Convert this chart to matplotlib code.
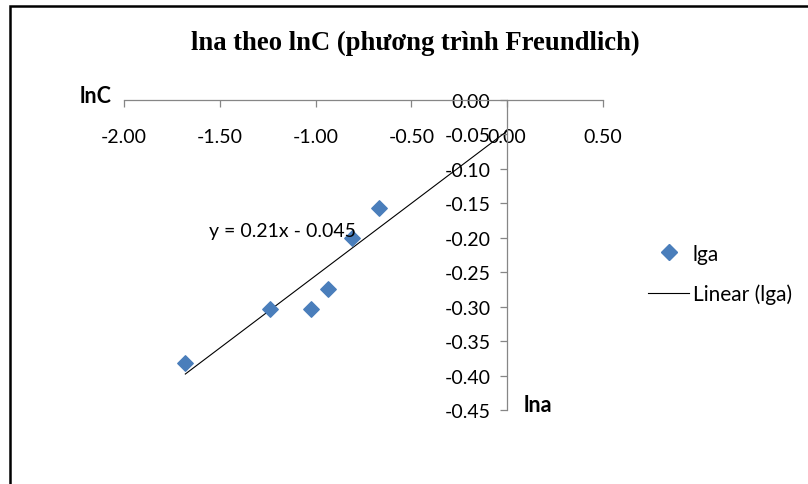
import numpy as np
import matplotlib
matplotlib.use("Agg")
import matplotlib.pyplot as plt
from matplotlib.patches import Rectangle
from matplotlib.lines import Line2D

# dữ liệu
lnC = [-1.68, -1.238, -1.023, -0.935, -0.81, -0.668]
lna = [-0.382, -0.303, -0.303, -0.274, -0.200, -0.157]
slope, intercept = 0.21, -0.045
xticks = [-2.00, -1.50, -1.00, -0.50, 0.00, 0.50]
yticks = [0.00, -0.05, -0.10, -0.15, -0.20, -0.25, -0.30, -0.35, -0.40, -0.45]

FONT = ["Lato", "DejaVu Sans"]
BLUE = "#4A7EBB"
FS = 14

fig = plt.figure(figsize=(8.08, 4.85), dpi=100)
ax = fig.add_axes([124/808, 1 - 411/485, (603 - 124)/808, (411 - 101)/485])

# khung ngoài của biểu đồ
fig.patches.append(Rectangle((10/808, -0.1), 1.2, 1.1 - 7/485, transform=fig.transFigure,
                             fill=False, ec="black", lw=1.8, clip_on=False))

ax.scatter(lnC, lna, marker="D", s=62, color=BLUE, zorder=3, label="lga")
xt = np.array([min(lnC), 0.0])
ax.plot(xt, slope*xt + intercept, color="black", lw=0.8, label="Linear (lga)")

ax.set_xlim(-2.0, 0.5)
ax.set_ylim(-0.45, 0.0)
for s in ["right", "top"]:
    ax.spines[s].set_visible(False)
ax.spines["left"].set_position(("data", 0))
ax.spines["bottom"].set_position(("data", 0))
for s in ["left", "bottom"]:
    ax.spines[s].set_color("#868686")
    ax.spines[s].set_linewidth(0.9)
ax.set_xticks(xticks)
ax.set_yticks(yticks)
ax.set_xticklabels([f"{v:.2f}" for v in xticks], family=FONT, fontsize=FS)
ax.set_yticklabels([f"{v:.2f}" for v in yticks], family=FONT, fontsize=FS)
ax.tick_params(axis="both", colors="#868686", labelcolor="black", length=5, width=0.9)
ax.tick_params(axis="x", pad=15)
ax.tick_params(axis="y", pad=7)

ax.text(-1.556, -0.19, f"y = {slope}x - {abs(intercept)}", family=FONT, fontsize=FS,
        ha="left", va="center")

fig.text(96/808, 1 - 97/485, "lnC", family=FONT, fontsize=15.5, fontweight="bold",
         ha="center", va="center")
fig.text(538/808, 1 - 406/485, "lna", family=FONT, fontsize=15.5, fontweight="bold",
         ha="center", va="center")
fig.text(415/808, 1 - 43/485, "lna theo lnC (phương trình Freundlich)",
         family=["Liberation Serif", "DejaVu Serif"], fontsize=19.2, fontweight="bold",
         ha="center", va="center")

handles = [Line2D([], [], marker="D", ls="none", color=BLUE, ms=8),
           Line2D([], [], color="black", lw=0.8)]
fig.legend(handles, ["lga", "Linear (lga)"], loc="center left",
           bbox_to_anchor=(629/808, 1 - 275/485), frameon=False,
           prop={"family": FONT, "size": 15}, handlelength=2.0, labelspacing=0.97,
           handletextpad=0.15)

fig.savefig("out.png", dpi=100)
